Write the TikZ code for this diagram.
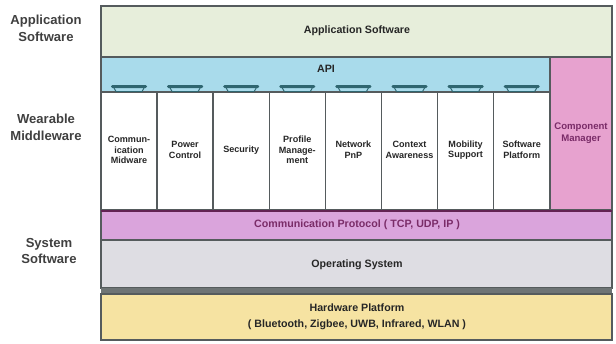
\documentclass[tikz,border=0pt]{standalone}
\usepackage{fontspec}
\setmainfont{Liberation Sans}
\usetikzlibrary{positioning}

\definecolor{appgreen}{HTML}{E7EEDB}
\definecolor{apiblue}{HTML}{A9DBEB}
\definecolor{cmpink}{HTML}{E7A2CF}
\definecolor{protopurple}{HTML}{DAA4DC}
\definecolor{osgray}{HTML}{DEDDE3}
\definecolor{hwyellow}{HTML}{F6E3A2}
\definecolor{framegray}{HTML}{555B5D}
\definecolor{plugteal}{HTML}{2F6670}
\definecolor{darkplum}{HTML}{7A2C68}

\begin{document}
\begin{tikzpicture}[x=0.75pt, y=-0.75pt, line width=1.1pt,
  layer/.style={draw=framegray},
  boxtext/.style={font=\fontsize{8}{12}\selectfont\bfseries, align=center, text=black!85},
  coltext/.style={font=\fontsize{6.8}{8}\selectfont\bfseries, align=center, text=black!85},
  side/.style={font=\fontsize{9.8}{12.5}\selectfont\bfseries, align=center, text=black!75}]

\useasboundingbox[fill=white] (0,0) rectangle (616,343);

% Side labels
\node[side] (appside) at (46,28) {Application\\Software};
\node[side] (midside) at (46,127) {Wearable\\Middleware};
\node[side] (sysside) at (49,251) {System\\Software};

% Application layer
\draw[layer, fill=appgreen] (101,6) rectangle (612,57);
\node[boxtext] (app) at (357,31) {Application Software};

% API band and component manager
\draw[layer, fill=apiblue] (101,57) rectangle (550,92);
\node[boxtext] (api) at (326,69) {API};
\draw[layer, fill=cmpink] (550,57) rectangle (612,210);
\node[coltext, font=\fontsize{7.2}{8.5}\selectfont\bfseries, text=darkplum] (cm) at (581,133) {Component\\Manager};

% Middleware columns
\foreach \i/\t in {0/{Commun-\\ication\\Midware}, 1/{Power\\Control}, 2/{Security},
    3/{Profile\\Manage-\\ment}, 4/{Network\\PnP}, 5/{Context\\Awareness},
    6/{Mobility\\Support}, 7/{Software\\Platform}} {
  \draw[layer, fill=white] ({101+56.1*\i},92) rectangle ({101+56.1*(\i+1)},210);
  \node[coltext] (col\i) at ({129+56.1*\i},150) {\t};
  % plug
  \fill[plugteal, rounded corners=1pt] ({111+56.1*\i},85) rectangle ({147+56.1*\i},88);
  \draw[plugteal, line width=0.7pt] ({114+56.1*\i},88) -- ({116+56.1*\i},91.5)
    -- ({142+56.1*\i},91.5) -- ({144+56.1*\i},88);
}

% System software layers
\draw[layer, fill=protopurple] (101,210) rectangle (612,240);
\draw[darkplum!80!black, line width=2pt] (101,211) -- (612,211);
\node[boxtext, text=darkplum] (proto) at (357,225) {Communication Protocol ( TCP, UDP, IP )};
\draw[layer, fill=osgray] (101,240) rectangle (612,288);
\node[boxtext] (os) at (357,265) {Operating System};
\fill[framegray!85] (101,288) rectangle (612,294);

% Hardware layer
\draw[layer, fill=hwyellow] (101,294) rectangle (612,340);
\node[boxtext] (hw) at (357,317) {Hardware Platform\\( Bluetooth, Zigbee, UWB, Infrared, WLAN )};

\end{tikzpicture}
\end{document}
